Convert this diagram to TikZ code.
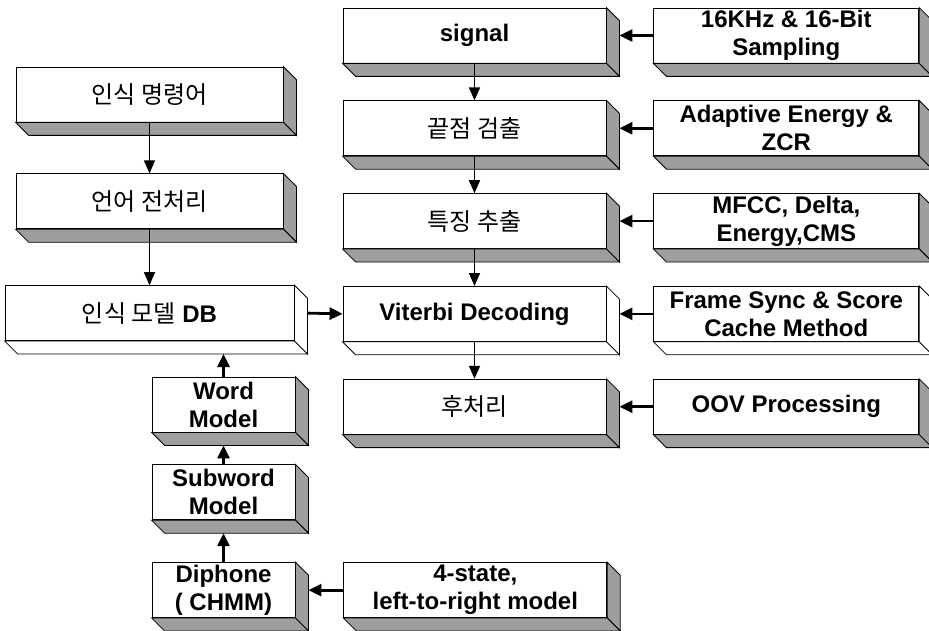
\documentclass[tikz,border=0pt]{standalone}
\usepackage{fontspec}
\setmainfont{Liberation Sans}
\newfontfamily\krfont{Noto Sans CJK KR}
\usepackage{tikz}
\usetikzlibrary{arrows.meta,positioning}
\definecolor{FaceGray}{HTML}{9E9E9E}
\tikzset{
  blk/.style={rectangle,draw,fill=white,line width=0.8pt,inner sep=0pt,
              minimum width=263pt,minimum height=55pt,align=center,
              font=\fontsize{24}{28}\selectfont\bfseries},
  opt/.style={blk,minimum width=265pt},
  lft/.style={blk,minimum width=267pt},
  sml/.style={blk,minimum width=143pt},
  kr/.style={font=\krfont\mdseries\fontsize{24}{28}\selectfont},
  face/.style={draw,line width=0.8pt,fill=FaceGray},
  arr/.style={-{Triangle[length=13pt,width=11pt]},line width=1.6pt},
  arrb/.style={-{Triangle[length=13pt,width=12pt]},line width=2.8pt},
}

\begin{document}
\begin{tikzpicture}[x=1pt,y=-1pt,node distance=37pt and 47pt]
  \useasboundingbox (0,0) rectangle (929,631);

  \node[blk] (sig) at (474.5,35.5) {signal};
  \node[blk, kr, below=of sig]  (epd)  {끝점 검출};
  \node[blk, kr, below=of epd]  (feat) {특징 추출};
  \node[blk, below=of feat]     (vit)  {Viterbi Decoding};
  \node[blk, kr, below=of vit]  (post) {후처리};

  \node[opt, right=of sig]  (rate)   {16KHz \& 16-Bit\\Sampling};
  \node[opt, right=of epd]  (energy) {Adaptive Energy \&\\ZCR};
  \node[opt, right=of feat] (mfcc)   {MFCC, Delta,\\Energy,CMS};
  \node[opt, right=of vit]  (frame)  {Frame Sync \& Score\\Cache Method};
  \node[opt, right=of post] (oov)    {OOV Processing};

  \node[lft, kr] (cmd) at (149.5,94.5) {인식 명령어};
  \node[lft, kr, below=51pt of cmd] (pre) {언어 전처리};
  \node[lft, minimum width=289pt, below=56pt of pre] (db)
       {{\krfont\mdseries\fontsize{24}{28}\selectfont 인식 모델} DB};

  \node[sml] (word) at (223.5,404.5) {Word\\Model};
  \node[sml, below=32pt of word] (sub) {Subword\\Model};
  \node[sml, below=42pt of sub]  (di)  {Diphone\\( CHMM)};
  \node[blk, right=48pt of di]   (hmm) {4-state,\\left-to-right model};

  \foreach \n/\c in {sig/FaceGray,epd/FaceGray,feat/FaceGray,vit/white,post/FaceGray,
                     rate/FaceGray,energy/FaceGray,mfcc/FaceGray,frame/white,oov/FaceGray,
                     cmd/FaceGray,pre/FaceGray,db/white,
                     word/FaceGray,sub/FaceGray,di/FaceGray,hmm/FaceGray}{
    \draw[face,fill=\c] (\n.north east) -- ++(13,13) -- ([shift={(13,13)}]\n.south east)
                        -- (\n.south east) -- cycle;
    \draw[face,fill=\c] (\n.south west) -- ++(13,13) -- ([shift={(13,13)}]\n.south east)
                        -- (\n.south east) -- cycle;
  }

  \draw[arr] (sig)  -- (epd);
  \draw[arr] (epd)  -- (feat);
  \draw[arr] (feat) -- (vit);
  \draw[arr] (vit)  -- (post);
  \draw[arr] (cmd)  -- (pre);
  \draw[arr] (pre)  -- (db);

  \draw[arrb] (rate.west)   -- ([xshift=13pt]sig.east);
  \draw[arrb] (energy.west) -- ([xshift=13pt]epd.east);
  \draw[arrb] (mfcc.west)   -- ([xshift=13pt]feat.east);
  \draw[arrb] (frame.west)  -- ([xshift=13pt]vit.east);
  \draw[arrb] (oov.west)    -- ([xshift=13pt]post.east);
  \draw[arrb] ([xshift=13pt]db.east) -- (vit.west);
  \draw[arrb] (hmm.west)    -- ([xshift=13pt]di.east);

  \draw[arrb] (word.north) -- ([yshift=-13pt]word.north |- db.south);
  \draw[arrb] (sub.north)  -- ([yshift=-13pt]word.south);
  \draw[arrb] (di.north)   -- ([yshift=-13pt]sub.south);
\end{tikzpicture}
\end{document}
